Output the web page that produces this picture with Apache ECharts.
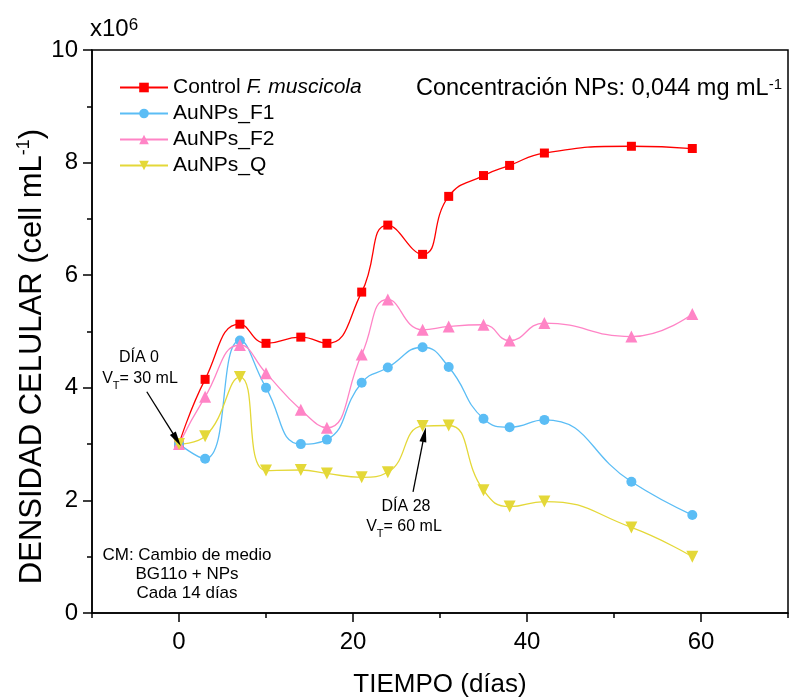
<!DOCTYPE html>
<html><head><meta charset="utf-8">
<script src="https://cdn.jsdelivr.net/npm/echarts@6/dist/echarts.min.js"></script>
<style>html,body{margin:0;padding:0;background:#fff}#c{width:790px;height:697px}</style>
</head><body><div id="c"></div>
<script>
const days = [0,3,7,10,14,17,21,24,28,31,35,38,42,52,59];
const control = [3.00,4.15,5.13,4.79,4.90,4.79,5.70,6.89,6.37,7.40,7.77,7.95,8.17,8.29,8.25];
const f1 = [3.00,2.74,4.84,4.00,3.00,3.08,4.09,4.36,4.72,4.37,3.45,3.30,3.43,2.33,1.74];
const f2 = [3.00,3.84,4.76,4.26,3.61,3.29,4.59,5.57,5.03,5.09,5.12,4.84,5.15,4.91,5.31];
const q = [3.00,3.14,4.19,2.53,2.54,2.48,2.41,2.50,3.32,3.33,2.18,1.89,1.98,1.52,1.00];
const seriesNames = ['Control','AuNPs_F1','AuNPs_F2','AuNPs_Q'];
const xMajor = [0,20,40,60];
const xMinor = [-10,10,30,50,70];
const arrow0 = [[-3.7,3.93],[-0.25,3.08]];
const arrow28 = [[26.9,2.15],[28.2,3.17]];

const FONT = 'Arial, "Liberation Sans", sans-serif';
const pair = (xs, ys) => xs.map((x,i)=>[x, ys[i]]);

function arrowLine(a){
  return [[{coord:a[0], symbol:'none'},{coord:a[1], symbol:'triangle', symbolSize:[7,15]}]];
}

const chart = echarts.init(document.getElementById('c'));
const mk = (name, data, color, symbol, size, rot, extra) => Object.assign({
  name, type:'line', data, smooth:0.5, symbol, symbolSize:size, symbolRotate:rot||0,
  lineStyle:{color, width:1.3}, itemStyle:{color}, z:3
}, extra||{});

chart.setOption({
  animation:false,
  textStyle:{fontFamily:FONT},
  grid:{left:92, right:2, top:50, bottom:84, show:true, borderColor:'#000', borderWidth:1.5,
    containLabel:false, outerBoundsMode:'none'},
  legend:{
    orient:'vertical', left:114, top:72, itemWidth:48, itemHeight:12, itemGap:5,
    textStyle:{fontFamily:FONT, fontSize:21, color:'#000', lineHeight:21,
      rich:{i:{fontStyle:'italic', fontSize:21, lineHeight:21, fontFamily:FONT, color:'#000'}}},
    formatter: n => n==='Control' ? 'Control {i|F. muscicola}' : n,
    data: seriesNames
  },
  xAxis:[{
    type:'value', min:-10, max:70,
    name:'TIEMPO (días)', nameLocation:'middle', nameGap:59, nameMoveOverlap:false,
    nameTextStyle:{fontSize:26, color:'#000', fontFamily:FONT},
    axisLine:{show:true, onZero:false, lineStyle:{color:'#000', width:1.5}},
    axisTick:{show:true, customValues:xMajor, length:9, lineStyle:{color:'#000', width:1.5}},
    axisLabel:{customValues:xMajor, fontSize:24, color:'#000', margin:17, fontFamily:FONT},
    splitLine:{show:false}
  },{
    type:'value', min:-10, max:70, position:'bottom',
    axisLine:{show:false},
    axisTick:{show:true, customValues:xMinor, length:5, lineStyle:{color:'#000', width:1.5}},
    axisLabel:{show:false}, splitLine:{show:false}
  }],
  yAxis:{
    type:'value', min:0, max:10, interval:2,
    name:'DENSIDAD CELULAR (cell mL{sup|-1})', nameLocation:'middle', nameGap:43, nameRotate:90,
    nameMoveOverlap:false,
    nameTextStyle:{fontSize:31, color:'#000', fontFamily:FONT, padding:[0,50,0,0],
      rich:{sup:{fontSize:18, verticalAlign:'top', color:'#000', fontFamily:FONT, lineHeight:34}}},
    axisLine:{show:true, onZero:false, lineStyle:{color:'#000', width:1.5}},
    axisTick:{show:true, length:9, lineStyle:{color:'#000', width:1.5}},
    minorTick:{show:true, splitNumber:2, length:5, lineStyle:{color:'#000', width:1.5}},
    axisLabel:{fontSize:24, color:'#000', margin:14, fontFamily:FONT},
    splitLine:{show:false}
  },
  series:[
    mk('Control', pair(days,control), '#ff0000', 'rect', 9, 0, {
      markLine:{silent:true, symbol:['none','triangle'], label:{show:false},
        lineStyle:{color:'#000', width:1.3, type:'solid'}, emphasis:{disabled:true},
        data: arrowLine(arrow0).concat(arrowLine(arrow28))}
    }),
    mk('AuNPs_F1', pair(days,f1), '#5bbdf5', 'circle', 10),
    mk('AuNPs_F2', pair(days,f2), '#ff84c6', 'triangle', 12),
    mk('AuNPs_Q', pair(days,q), '#e4d838', 'triangle', 12, 180)
  ],
  graphic:[
    {type:'text', left:90, top:17, style:{text:'x10{s|6}', font:'24px '+FONT, fill:'#000',
      rich:{s:{fontSize:17, verticalAlign:'top', fontFamily:FONT, fill:'#000'}}}},
    {type:'text', right:8, top:77, style:{text:'Concentración NPs: 0,044 mg mL{s|-1}', font:'23.5px '+FONT, fill:'#000',
      rich:{s:{fontSize:15, verticalAlign:'top', fontFamily:FONT, fill:'#000'}}}},
    {type:'text', x:139, y:350, style:{text:'DÍA 0', font:'16px '+FONT, fill:'#000', align:'center'}},
    {type:'text', x:140, y:367, style:{text:'V{b|T}= 30 mL', font:'16px '+FONT, fill:'#000', align:'center',
      rich:{b:{fontSize:11, verticalAlign:'bottom', fontFamily:FONT, fill:'#000', lineHeight:24}}}},
    {type:'text', x:406, y:499, style:{text:'DÍA 28', font:'16px '+FONT, fill:'#000', align:'center'}},
    {type:'text', x:404, y:515, style:{text:'V{b|T}= 60 mL', font:'16px '+FONT, fill:'#000', align:'center',
      rich:{b:{fontSize:11, verticalAlign:'bottom', fontFamily:FONT, fill:'#000', lineHeight:24}}}},
    {type:'text', x:187, y:546, style:{text:'CM: Cambio de medio\nBG11o + NPs\nCada 14 días', font:'17px '+FONT,
      fill:'#000', align:'center', lineHeight:19}}
  ]
});
</script></body></html>
